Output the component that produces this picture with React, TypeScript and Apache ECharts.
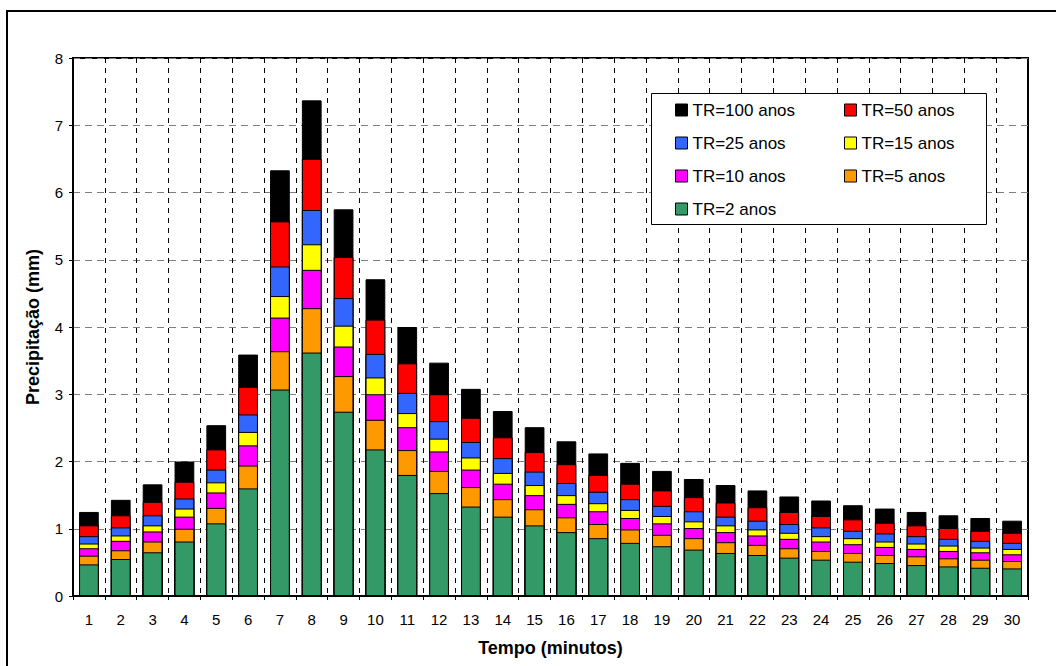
import React, { useEffect, useRef } from "react";
import * as echarts from "echarts";

const categories = Array.from({ length: 30 }, (_, i) => String(i + 1));
const yTicks = [0, 1, 2, 3, 4, 5, 6, 7, 8];

const tr2 = [0.47, 0.55, 0.65, 0.81, 1.08, 1.60, 3.07, 3.62, 2.74, 2.18, 1.80, 1.53, 1.33, 1.18, 1.05, 0.95, 0.86, 0.79, 0.74, 0.69, 0.64, 0.61, 0.57, 0.54, 0.51, 0.49, 0.46, 0.44, 0.42, 0.41];
const tr5 = [0.60, 0.68, 0.81, 1.00, 1.31, 1.94, 3.64, 4.28, 3.27, 2.62, 2.17, 1.86, 1.62, 1.44, 1.29, 1.17, 1.07, 0.99, 0.91, 0.86, 0.80, 0.76, 0.71, 0.67, 0.64, 0.61, 0.59, 0.56, 0.54, 0.52];
const tr10 = [0.71, 0.82, 0.96, 1.18, 1.54, 2.24, 4.14, 4.85, 3.71, 3.00, 2.51, 2.15, 1.88, 1.67, 1.50, 1.37, 1.26, 1.16, 1.08, 1.01, 0.95, 0.90, 0.85, 0.81, 0.77, 0.73, 0.70, 0.67, 0.65, 0.62];
const tr15 = [0.78, 0.90, 1.05, 1.30, 1.69, 2.44, 4.46, 5.23, 4.02, 3.25, 2.72, 2.34, 2.06, 1.83, 1.65, 1.50, 1.38, 1.28, 1.19, 1.11, 1.05, 0.99, 0.94, 0.89, 0.86, 0.81, 0.78, 0.75, 0.72, 0.70];
const tr25 = [0.89, 1.02, 1.20, 1.45, 1.88, 2.70, 4.90, 5.74, 4.43, 3.60, 3.02, 2.60, 2.29, 2.05, 1.85, 1.68, 1.55, 1.44, 1.34, 1.26, 1.18, 1.12, 1.07, 1.02, 0.97, 0.93, 0.89, 0.85, 0.82, 0.79];
const tr50 = [1.05, 1.20, 1.40, 1.70, 2.18, 3.11, 5.57, 6.50, 5.04, 4.11, 3.46, 3.00, 2.65, 2.36, 2.14, 1.96, 1.80, 1.67, 1.57, 1.47, 1.39, 1.32, 1.25, 1.19, 1.14, 1.09, 1.05, 1.01, 0.97, 0.94];
const tr100 = [1.25, 1.43, 1.66, 2.00, 2.54, 3.59, 6.33, 7.37, 5.75, 4.71, 4.00, 3.47, 3.08, 2.75, 2.51, 2.30, 2.12, 1.98, 1.86, 1.74, 1.65, 1.57, 1.48, 1.42, 1.35, 1.30, 1.25, 1.20, 1.16, 1.12];

const seriesNames = ["TR=100 anos", "TR=50 anos", "TR=25 anos", "TR=15 anos", "TR=10 anos", "TR=5 anos", "TR=2 anos"];
const seriesData = [tr100, tr50, tr25, tr15, tr10, tr5, tr2];
const seriesColors = ["#000000", "#FF0000", "#3366FF", "#FFFF00", "#FF00FF", "#FF9900", "#339966"];

const FONT = "'Liberation Sans', Arial, sans-serif";

export default function App() {
  const ref = useRef<HTMLDivElement>(null);
  useEffect(() => {
    if (!ref.current) return;
    const chart = echarts.init(ref.current, null, { renderer: "svg" });
    const legendText = { fontFamily: FONT, fontSize: 17, color: "#000", lineHeight: 17 };
    const legendCommon = {
      orient: "vertical" as const,
      itemWidth: 12,
      itemHeight: 12,
      itemGap: 16,
      padding: 0,
      top: 101.5,
      textStyle: legendText,
      icon: "rect",
      itemStyle: { borderColor: "#000", borderWidth: 1 },
      selectedMode: false,
      z: 20,
    };
    chart.setOption({
      animation: false,
      backgroundColor: "#fff",
      textStyle: { fontFamily: FONT },
      grid: {
        left: 73,
        top: 58,
        right: 28,
        bottom: 70,
        show: true,
        borderColor: "#000",
        borderWidth: 2,
        backgroundColor: "transparent",
      },
      legend: [
        { ...legendCommon, left: 675, data: [seriesNames[0], seriesNames[2], seriesNames[4], seriesNames[6]] },
        { ...legendCommon, left: 844, data: [seriesNames[1], seriesNames[3], seriesNames[5]] },
      ],
      graphic: [
        {
          type: "rect",
          z: 10,
          shape: { x: 7, y: 11, width: 1100, height: 700 },
          style: { fill: "none", stroke: "#000", lineWidth: 2 },
        },
        {
          type: "rect",
          z: 10,
          shape: { x: 651.5, y: 93.5, width: 335, height: 131 },
          style: { fill: "#fff", stroke: "#000", lineWidth: 1 },
        },
      ],
      xAxis: {
        type: "category",
        data: categories,
        boundaryGap: true,
        name: "Tempo (minutos)",
        nameLocation: "middle",
        nameGap: 43,
        nameTextStyle: { fontFamily: FONT, fontSize: 18, fontWeight: "bold", color: "#000" },
        axisLine: { lineStyle: { color: "#000", width: 2 } },
        axisTick: { show: true, length: 4, inside: false, alignWithLabel: false, interval: 0, lineStyle: { color: "#000" } },
        axisLabel: { interval: 0, margin: 16, fontFamily: FONT, fontSize: 15, color: "#000" },
        splitLine: { show: true, interval: 0, lineStyle: { color: "#000", type: [5, 5], width: 1 } },
      },
      yAxis: {
        type: "value",
        min: 0,
        max: 8,
        interval: 1,
        name: "Precipitação (mm)",
        nameLocation: "middle",
        nameGap: 31,
        nameTextStyle: { fontFamily: FONT, fontSize: 18, fontWeight: "bold", color: "#000" },
        axisLine: { show: true, lineStyle: { color: "#000", width: 2 } },
        axisTick: { show: true, length: 4, lineStyle: { color: "#000" } },
        axisLabel: {
          margin: 10,
          fontFamily: FONT,
          fontSize: 15,
          color: "#000",
          formatter: (v: number) => (yTicks.includes(v) ? String(v) : ""),
        },
        splitLine: { show: true, lineStyle: { color: "#7f7f7f", type: [7, 5], width: 1 } },
      },
      series: seriesNames.map((name, i) => ({
        name,
        type: "bar",
        data: seriesData[i],
        barWidth: "62%",
        barGap: "-100%",
        itemStyle: { color: seriesColors[i], borderColor: "#000", borderWidth: 1 },
        z: 2 + i,
      })),
    });
    return () => chart.dispose();
  }, []);
  return (
    <div
      ref={ref}
      style={{ position: "fixed", left: 0, top: 0, width: 1056, height: 666, background: "#fff" }}
    />
  );
}
